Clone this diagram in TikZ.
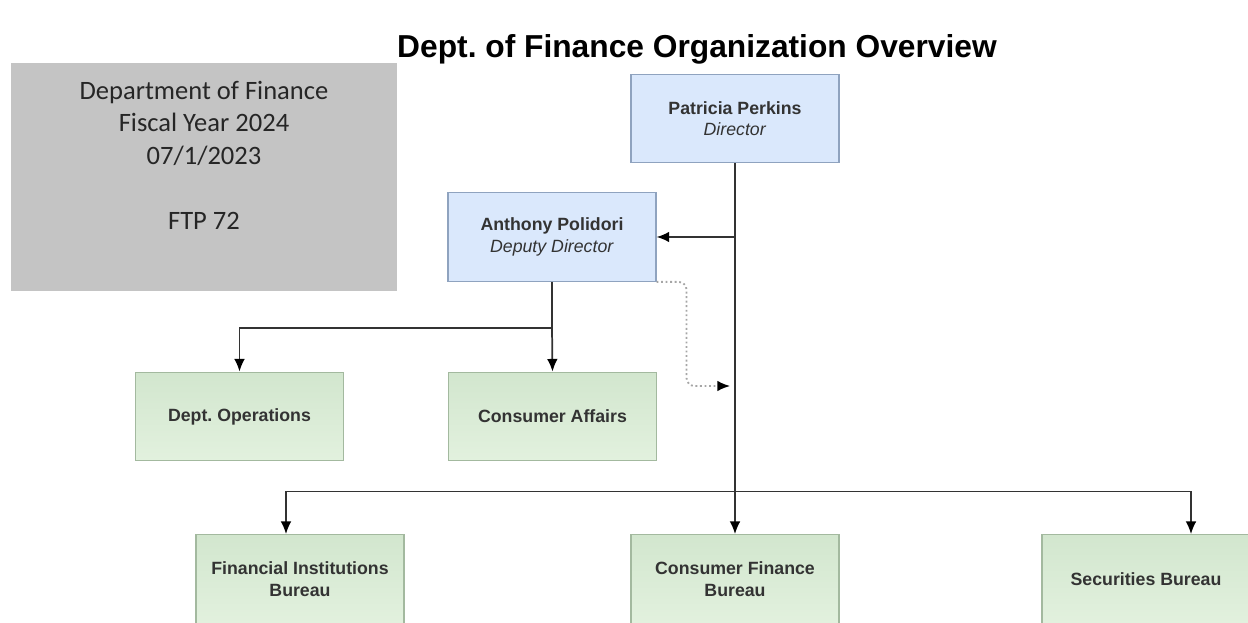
\documentclass[tikz,border=0pt]{standalone}
\usepackage{fontspec}
\setmainfont{Liberation Sans}
\newfontfamily\calfont{Carlito}
\usetikzlibrary{arrows.meta}
\frenchspacing
\definecolor{bluefill}{HTML}{DAE8FC}
\definecolor{blueline}{HTML}{8FA3BF}
\definecolor{greentop}{HTML}{D2E6CE}
\definecolor{greenbot}{HTML}{E2F1DE}
\definecolor{greenline}{HTML}{A3B99F}
\definecolor{infogray}{HTML}{C4C4C4}
\definecolor{linegray}{HTML}{333333}
\begin{document}
\begin{tikzpicture}[x=0.75pt,y=-0.75pt,
    head/.style={draw=blueline,fill=bluefill,line width=0.8pt,minimum width=156pt,minimum height=66.5pt,
      inner sep=0pt,align=center,text=linegray,font=\fontsize{13.3}{16}\selectfont},
    unit/.style={draw=greenline,top color=greentop,bottom color=greenbot,line width=0.8pt,minimum width=156pt,
      minimum height=66.5pt,inner sep=0pt,align=center,text=linegray,font=\bfseries\fontsize{13.3}{16.5}\selectfont},
    arr/.style={draw=linegray,line width=1.3pt,-{Latex[length=9.5pt,width=8pt,color=black]}},
    link/.style={draw=linegray,line width=1.3pt},
    dotline/.style={draw=gray!70,line width=1.4pt,dotted,rounded corners=6pt,-{Latex[length=9.5pt,width=8pt,color=black]}}]
\useasboundingbox (0,0) rectangle (1248,623);
\clip (0,0) rectangle (1248,623);
\node (title) at (697,49) {\bfseries\fontsize{23.8}{26}\selectfont Dept. of Finance Organization Overview};
\node (info) [fill=infogray,minimum width=289.5pt,minimum height=171pt,inner sep=0pt] at (204,177) {};
\node (infotext) [align=center,font=\calfont\fontsize{19.9}{24.4}\selectfont,text=black!85] at (204,155)
  {Department of Finance\\Fiscal Year 2024\\07/1/2023\\[24.4pt]FTP 72};
\node (dir) [head] at (735,118.5) {\textbf{Patricia Perkins}\\\textit{Director}};
\node (dep) [head] at (552,237) {\textbf{Anthony Polidori}\\\textit{Deputy Director}};
\node (ops) [unit] at (239.5,416.5) {Dept. Operations};
\node (ca) [unit] at (552.5,416.5) {Consumer Affairs};
\node (fib) [unit] at (300,579) {Financial Institutions\\Bureau};
\node (cfb) [unit] at (735,579) {Consumer Finance\\Bureau};
\node (sec) [unit] at (1146,579) {Securities Bureau};
\path (dep.south) ++(0,46) coordinate (split);
\path (dir.south) ++(0,328) coordinate (bus);
\coordinate (loose) at (730,386);
\draw[arr] (dir.south) -- (cfb.north);
\draw[arr] (dir.south |- dep.east) -- (dep.east);
\draw[link] (dep.south) -- (split);
\draw[arr] (split) -| (ops.north);
\draw[arr] (split) -- (ca.north);
\draw[arr] (bus) -| ([xshift=-10.5pt]fib.north);
\draw[arr] (bus) -| ([xshift=33.75pt]sec.north);
\draw[dotline] (dep.south east) -- ++(30,0) |- (loose);
\end{tikzpicture}
\end{document}
